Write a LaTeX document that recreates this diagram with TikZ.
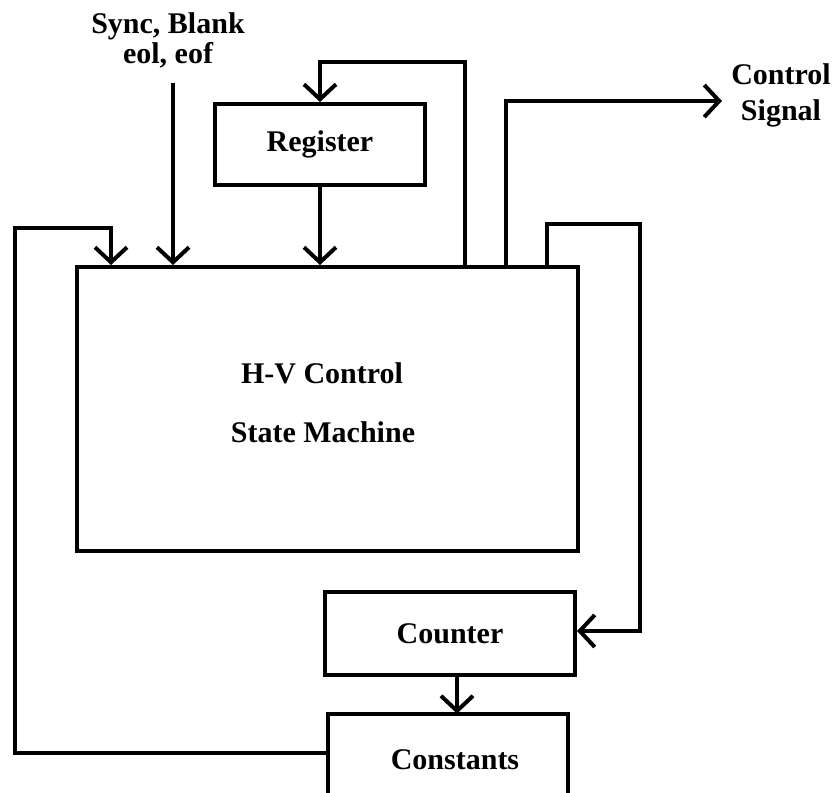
\documentclass[tikz,border=0pt]{standalone}
\usepackage{fontspec}
\setmainfont{Liberation Serif}
\usetikzlibrary{arrows.meta}
\begin{document}
\begin{tikzpicture}[x=0.5pt,y=-0.5pt,
  wire/.style={line width=2pt},
  flow/.style={wire,-{Straight Barb[length=7.5pt,width=16pt,line width=2pt]}},
  blockbox/.style={draw,line width=2pt,inner sep=0pt},
  lbl/.style={font=\fontsize{15}{15}\selectfont\bfseries,align=center,inner sep=0pt}]
\useasboundingbox (0,0) rectangle (836,793);

% blocks
\node[blockbox,minimum width=250.5pt,minimum height=142pt] (sm) at (327.5,409) {};
\node[lbl] at (322,373) {H-V Control};
\node[lbl] at (323,432) {State Machine};
\node[blockbox,minimum width=105pt,minimum height=40.5pt,lbl] (reg) at (320,144.5) {Register};
\node[blockbox,minimum width=125pt,minimum height=41.5pt,lbl] (cnt) at (450,633.5) {Counter};
\node[minimum width=120pt,minimum height=39.5pt,inner sep=0pt] (cst) at (448,753.5) {};
\node[lbl] at (455,760) {Constants};
\draw[wire] (cst.south west) |- (cst.north east) -- (cst.south east);

% labels of external signals
\node[lbl] (sync) at (168,40) {Sync, Blank\\eol, eof};
\node[lbl,font=\fontsize{15}{18}\selectfont\bfseries] (ctl) at (781,95) {Control\\Signal};

% anchor points on the state machine's top edge
\path (sm.north west) ++(36,0) coordinate (inA)
      (sm.north west) ++(98,0) coordinate (inB)
      (sm.north west) ++(245,0) coordinate (inR)
      (sm.north west) ++(390,0) coordinate (outR)
      (sm.north west) ++(431,0) coordinate (outC)
      (sm.north west) ++(472,0) coordinate (outN);

% external input
\draw[flow] (inB |- 0,83) -- (inB);

% register loop
\draw[flow] (reg.south -| inR) -- (inR);
\draw[flow] (outR) |- (320,62) -- (reg.north);

% control signal output
\draw[flow] (outC) |- (722,101);

% counter feedback
\draw[flow] (outN) |- (640,224) |- (cnt.east |- 0,631);
\draw[flow] (cnt.south -| 457,0) -- (cst.north -| 457,0);

% constants back to the state machine
\draw[flow] (cst.west |- 0,753) -| (15,228) -| (inA);
\end{tikzpicture}
\end{document}
